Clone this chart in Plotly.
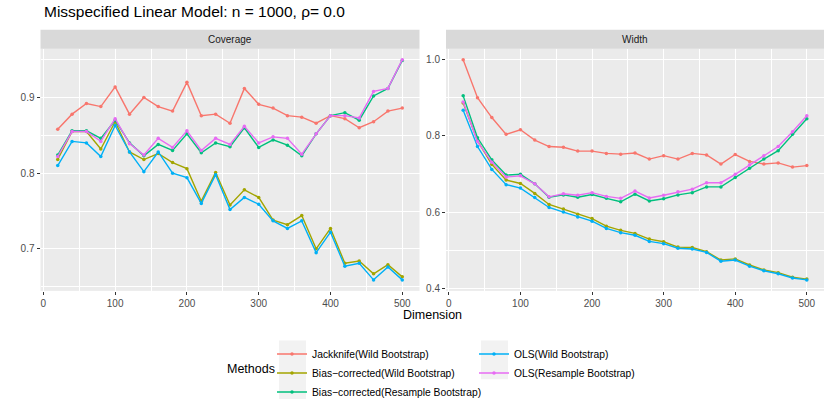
import plotly.graph_objects as go

W, H = 830, 415

dimension = list(range(20, 501, 20))

methods = [
    "Jackknife(Wild Bootstrap)",
    "Bias\u2212corrected(Wild Bootstrap)",
    "Bias\u2212corrected(Resample Bootstrap)",
    "OLS(Wild Bootstrap)",
    "OLS(Resample Bootstrap)",
]
colors = ["#F8766D", "#A3A500", "#00BF7D", "#00B0F6", "#E76BF3"]

# Coverage panel
cov_jack = [0.858, 0.878, 0.892, 0.888, 0.914, 0.878, 0.900, 0.888, 0.882, 0.920,
            0.876, 0.878, 0.866, 0.912, 0.891, 0.886, 0.876, 0.874, 0.866, 0.876,
            0.872, 0.860, 0.868, 0.882, 0.886]
cov_bc_wild = [0.818, 0.855, 0.855, 0.832, 0.868, 0.828, 0.818, 0.826, 0.814, 0.806,
               0.763, 0.801, 0.758, 0.778, 0.768, 0.738, 0.732, 0.744, 0.700, 0.727,
               0.681, 0.684, 0.667, 0.679, 0.663]
cov_bc_res = [0.824, 0.856, 0.856, 0.846, 0.870, 0.840, 0.823, 0.838, 0.830, 0.852,
              0.827, 0.840, 0.835, 0.860, 0.834, 0.844, 0.837, 0.823, 0.852, 0.876,
              0.880, 0.870, 0.902, 0.912, 0.949]
cov_ols_wild = [0.810, 0.842, 0.840, 0.822, 0.863, 0.828, 0.802, 0.828, 0.800, 0.794,
                0.760, 0.798, 0.752, 0.768, 0.759, 0.737, 0.727, 0.737, 0.695, 0.722,
                0.677, 0.681, 0.659, 0.676, 0.659]
cov_ols_res = [0.822, 0.855, 0.855, 0.842, 0.872, 0.839, 0.824, 0.846, 0.834, 0.856,
               0.830, 0.846, 0.838, 0.862, 0.840, 0.848, 0.846, 0.825, 0.852, 0.876,
               0.876, 0.873, 0.908, 0.912, 0.950]

# Width panel
wid_jack = [1.000, 0.900, 0.848, 0.804, 0.816, 0.789, 0.772, 0.770, 0.760, 0.760,
            0.754, 0.752, 0.755, 0.739, 0.748, 0.739, 0.754, 0.750, 0.726, 0.751,
            0.733, 0.726, 0.729, 0.718, 0.722]
wid_bc_wild = [0.886, 0.787, 0.725, 0.684, 0.675, 0.649, 0.620, 0.608, 0.594, 0.583,
               0.563, 0.552, 0.544, 0.529, 0.522, 0.508, 0.507, 0.496, 0.474, 0.477,
               0.461, 0.448, 0.441, 0.429, 0.424]
wid_bc_res = [0.905, 0.795, 0.737, 0.697, 0.699, 0.674, 0.639, 0.645, 0.639, 0.646,
              0.636, 0.627, 0.647, 0.629, 0.635, 0.645, 0.651, 0.666, 0.666, 0.691,
              0.715, 0.739, 0.761, 0.804, 0.845]
wid_ols_wild = [0.867, 0.772, 0.712, 0.672, 0.663, 0.638, 0.612, 0.600, 0.587, 0.576,
                0.557, 0.546, 0.539, 0.523, 0.517, 0.505, 0.503, 0.494, 0.471, 0.474,
                0.458, 0.446, 0.438, 0.427, 0.422]
wid_ols_res = [0.889, 0.785, 0.731, 0.692, 0.695, 0.674, 0.640, 0.648, 0.644, 0.651,
               0.641, 0.636, 0.655, 0.637, 0.644, 0.653, 0.660, 0.677, 0.677, 0.699,
               0.724, 0.748, 0.772, 0.811, 0.853]

coverage = [cov_jack, cov_bc_wild, cov_bc_res, cov_ols_wild, cov_ols_res]
width = [wid_jack, wid_bc_wild, wid_bc_res, wid_ols_wild, wid_ols_res]

cov_ticks = [0.7, 0.8, 0.9]
cov_minor = [0.65, 0.75, 0.85, 0.95]
wid_ticks = [0.4, 0.6, 0.8, 1.0]
wid_minor = [0.5, 0.7, 0.9]
x_ticks = [0, 100, 200, 300, 400, 500]
x_minor = [50, 150, 250, 350, 450]


def expand(vals, mult=0.05):
    lo, hi = min(vals), max(vals)
    d = (hi - lo) * mult
    return [lo - d, hi + d]


FONT = "Liberation Sans, Arial, sans-serif"
PANEL_BG = "#EBEBEB"
STRIP_BG = "#D9D9D9"


def px_x(p):
    return p / W


def px_y(p):
    return 1 - p / H


fig = go.Figure()

for i, (m, c) in enumerate(zip(methods, colors)):
    leg = "legend" if i < 3 else "legend2"
    fig.add_trace(go.Scatter(
        x=dimension, y=coverage[i], mode="lines+markers", name=m,
        line=dict(color=c, width=1.4), marker=dict(color=c, size=3.5),
        xaxis="x", yaxis="y", legend=leg, legendgroup=m, showlegend=True,
    ))
for i, (m, c) in enumerate(zip(methods, colors)):
    leg = "legend" if i < 3 else "legend2"
    fig.add_trace(go.Scatter(
        x=dimension, y=width[i], mode="lines+markers", name=m,
        line=dict(color=c, width=1.4), marker=dict(color=c, size=3.5),
        xaxis="x2", yaxis="y2", legend=leg, legendgroup=m, showlegend=False,
    ))

all_cov = [v for s in coverage for v in s]
all_wid = [v for s in width for v in s]
x_range = expand(dimension)

y_dom = [px_y(293), px_y(49)]
x1_dom = [px_x(40.5), px_x(419.5)]
x2_dom = [px_x(446), px_x(824)]

common_axis = dict(
    showgrid=True, gridcolor="white", gridwidth=1.1, zeroline=False,
    ticks="outside", ticklen=3, tickwidth=1, tickcolor="#333333",
    tickfont=dict(family=FONT, size=10, color="#4D4D4D"),
    showline=False,
)

LEG_FONT = dict(family=FONT, size=10.3, color="black")

fig.update_layout(
    width=W, height=H,
    margin=dict(l=0, r=0, t=0, b=0),
    paper_bgcolor="white", plot_bgcolor=PANEL_BG,
    font=dict(family=FONT),
    xaxis=dict(domain=x1_dom, range=x_range, tickvals=x_ticks, anchor="y",
               minor=dict(tickvals=x_minor, showgrid=True, gridcolor="white", gridwidth=0.5, ticks=""),
               **common_axis),
    yaxis=dict(domain=y_dom, range=expand(all_cov), tickvals=cov_ticks,
               ticktext=[f"{v:.1f}" for v in cov_ticks], anchor="x",
               minor=dict(tickvals=cov_minor, showgrid=True, gridcolor="white", gridwidth=0.5, ticks=""),
               **common_axis),
    xaxis2=dict(domain=x2_dom, range=x_range, tickvals=x_ticks, anchor="y2",
                minor=dict(tickvals=x_minor, showgrid=True, gridcolor="white", gridwidth=0.5, ticks=""),
                **common_axis),
    yaxis2=dict(domain=y_dom, range=expand(all_wid), tickvals=wid_ticks,
                ticktext=[f"{v:.1f}" for v in wid_ticks], anchor="x2",
                minor=dict(tickvals=wid_minor, showgrid=True, gridcolor="white", gridwidth=0.5, ticks=""),
                **common_axis),
    legend=dict(x=px_x(272), y=px_y(342), xanchor="left", yanchor="top",
                font=LEG_FONT, bgcolor="rgba(0,0,0,0)", tracegroupgap=0, itemwidth=30),
    legend2=dict(x=px_x(474), y=px_y(342), xanchor="left", yanchor="top",
                 font=LEG_FONT, bgcolor="rgba(0,0,0,0)", tracegroupgap=0, itemwidth=30),
    showlegend=True,
)

shapes = []
annotations = []
# strips
for dom, label in [(x1_dom, "Coverage"), (x2_dom, "Width")]:
    shapes.append(dict(type="rect", xref="paper", yref="paper",
                       x0=dom[0], x1=dom[1], y0=px_y(49), y1=px_y(30),
                       fillcolor=STRIP_BG, line=dict(width=0), layer="below"))
    annotations.append(dict(xref="paper", yref="paper", x=(dom[0] + dom[1]) / 2,
                            y=px_y(40), text=label, showarrow=False,
                            font=dict(family=FONT, size=10, color="#1A1A1A"),
                            xanchor="center", yanchor="middle"))

# legend key backgrounds
shapes.append(dict(type="rect", xref="paper", yref="paper",
                   x0=px_x(279), x1=px_x(306), y0=px_y(402), y1=px_y(343),
                   fillcolor="#F2F2F2", line=dict(width=0), layer="below"))
shapes.append(dict(type="rect", xref="paper", yref="paper",
                   x0=px_x(481), x1=px_x(508), y0=px_y(382), y1=px_y(343),
                   fillcolor="#F2F2F2", line=dict(width=0), layer="below"))

annotations.append(dict(xref="paper", yref="paper", x=px_x(42), y=px_y(12),
                        text="Misspecified Linear Model: n = 1000, \u03c1= 0.0",
                        showarrow=False, xanchor="left", yanchor="middle",
                        font=dict(family=FONT, size=15.5, color="black")))
annotations.append(dict(xref="paper", yref="paper", x=px_x(432), y=px_y(317),
                        text="Dimension", showarrow=False, xanchor="center", yanchor="middle",
                        font=dict(family=FONT, size=12.5, color="black")))
annotations.append(dict(xref="paper", yref="paper", x=px_x(277), y=px_y(372),
                        text="Methods", showarrow=False, xanchor="right", yanchor="middle",
                        font=dict(family=FONT, size=12.5, color="black")))

fig.update_layout(shapes=shapes, annotations=annotations)

fig.write_html("out.html", config={"displayModeBar": False},
               post_script="document.body.style.margin='0px';")
